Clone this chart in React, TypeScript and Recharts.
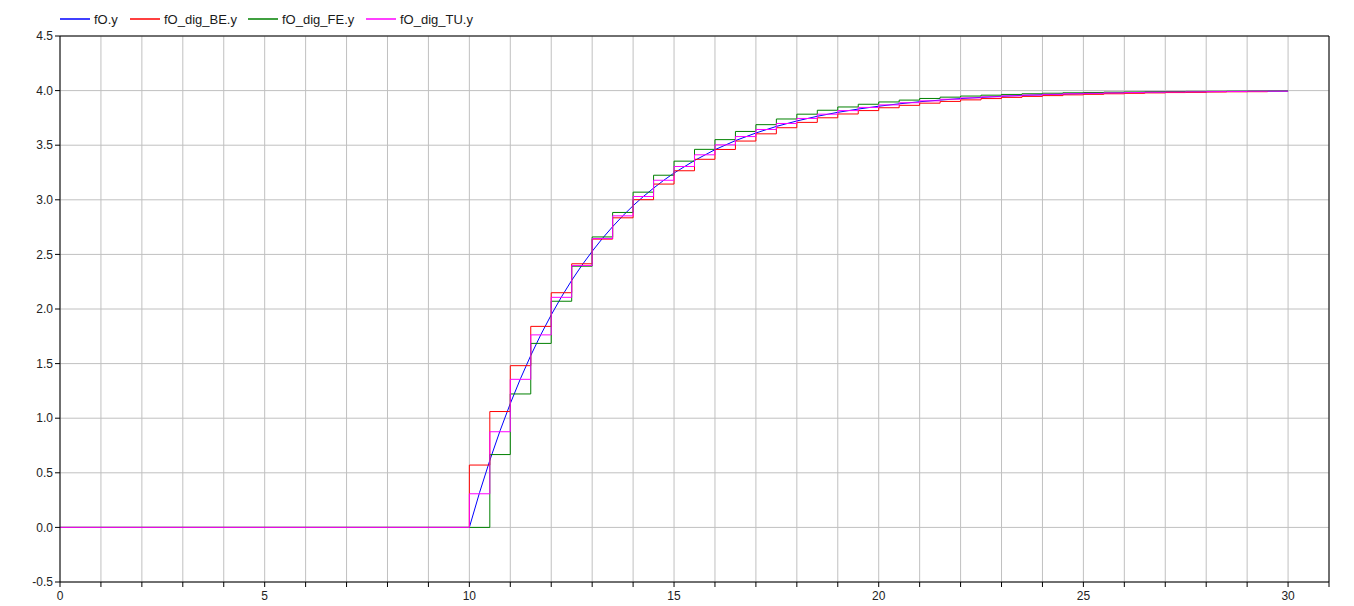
import React from 'react';
import { LineChart, Line, XAxis, YAxis, CartesianGrid, ReferenceLine } from 'recharts';

// sample instants of the discrete blocks (period 0.5 s, step at t = 10)
const sampleTimes = [
  10, 10.5, 11, 11.5, 12, 12.5, 13, 13.5, 14, 14.5,
  15, 15.5, 16, 16.5, 17, 17.5, 18, 18.5, 19, 19.5,
  20, 20.5, 21, 21.5, 22, 22.5, 23, 23.5, 24, 24.5,
  25, 25.5, 26, 26.5, 27, 27.5, 28, 28.5, 29, 29.5, 30,
];

// continuous response fO.y
const fOTimes = [
  0, 10, 10.25, 10.5, 10.75, 11, 11.25, 11.5, 11.75, 12, 12.25, 12.5, 12.75, 13, 13.25, 13.5,
  13.75, 14, 14.25, 14.5, 14.75, 15, 15.5, 16, 16.5, 17, 17.5, 18, 18.5, 19, 19.5, 20,
  20.5, 21, 21.5, 22, 22.5, 23, 23.5, 24, 24.5, 25, 25.5, 26, 26.5, 27, 27.5, 28,
  28.5, 29, 29.5, 30,
];
const fOValues = [
  0, 0, 0.32, 0.614, 0.885, 1.134, 1.363, 1.574, 1.768, 1.946, 2.111, 2.262, 2.401, 2.528, 2.646, 2.754,
  2.854, 2.946, 3.03, 3.107, 3.179, 3.245, 3.36, 3.459, 3.542, 3.612, 3.672, 3.722, 3.765, 3.801, 3.831, 3.857,
  3.879, 3.898, 3.913, 3.927, 3.938, 3.948, 3.956, 3.962, 3.968, 3.973, 3.977, 3.981, 3.984, 3.986, 3.988, 3.99,
  3.992, 3.993, 3.994, 3.995,
];

// backward Euler, held from 10 to 29.5
const beValues = [
  0.571, 1.061, 1.481, 1.841, 2.149, 2.414, 2.64, 2.835, 3.001, 3.144,
  3.266, 3.371, 3.461, 3.538, 3.604, 3.66, 3.709, 3.751, 3.786, 3.817,
  3.843, 3.865, 3.885, 3.901, 3.915, 3.927, 3.938, 3.947, 3.954, 3.961,
  3.966, 3.971, 3.975, 3.979, 3.982, 3.984, 3.987, 3.989, 3.99, 3.992,
];

// forward Euler
const feValues = [
  0, 0.667, 1.222, 1.685, 2.071, 2.392, 2.66, 2.884, 3.07, 3.225,
  3.354, 3.462, 3.551, 3.626, 3.688, 3.74, 3.784, 3.82, 3.85, 3.875,
  3.896, 3.913, 3.928, 3.94, 3.95, 3.958, 3.965, 3.971, 3.976, 3.98,
  3.983, 3.986, 3.988, 3.99, 3.992, 3.993, 3.994, 3.995, 3.996, 3.997, 3.997,
];

// Tustin
const tuValues = [
  0.308, 0.876, 1.356, 1.763, 2.107, 2.398, 2.645, 2.853, 3.03, 3.179,
  3.305, 3.412, 3.503, 3.579, 3.644, 3.699, 3.745, 3.784, 3.817, 3.846,
  3.869, 3.889, 3.906, 3.921, 3.933, 3.943, 3.952, 3.959, 3.966, 3.971,
  3.975, 3.979, 3.982, 3.985, 3.987, 3.989, 3.991, 3.992, 3.994, 3.995, 3.996,
];

const xTicks = Array.from({ length: 32 }, (_, i) => i);
const yTicks = [-0.5, 0, 0.5, 1, 1.5, 2, 2.5, 3, 3.5, 4, 4.5];

const series = [
  { name: 'fO.y', color: '#0000ff' },
  { name: 'fO_dig_BE.y', color: '#ff0000' },
  { name: 'fO_dig_FE.y', color: '#008000' },
  { name: 'fO_dig_TU.y', color: '#ff00ff' },
];
// left edge of each legend entry (page px)
const legendLeft = [60, 130, 248, 366];

const toPoints = (times: number[], values: number[]) =>
  [{ t: 0, v: 0 }, ...values.map((v, i) => ({ t: times[i], v }))];

const fOData = fOTimes.map((t, i) => ({ t, v: fOValues[i] }));
const beData = toPoints(sampleTimes, beValues);
const feData = toPoints(sampleTimes, feValues);
const tuData = toPoints(sampleTimes, tuValues);

const tickStyle = { fill: '#222', fontSize: 12 };

const App: React.FC = () => {
  return (
    <div style={{ position: 'relative', width: 1338, height: 598, fontFamily: '"Liberation Sans", Arial, sans-serif' }}>
      {/* legend above the plot */}
      <svg width={600} height={24} style={{ position: 'absolute', left: 0, top: 0, zIndex: 2 }}>
        {series.map((s, i) => (
          <g key={s.name} transform={`translate(${legendLeft[i] - 8}, 0)`}>
            <line x1={0} y1={11} x2={30} y2={11} stroke={s.color} strokeWidth={1.5} />
            <text x={34} y={16} fontSize={13} fill="#1a1a1a">{s.name}</text>
          </g>
        ))}
      </svg>
      <LineChart width={1338} height={598} margin={{ top: 28, right: 17, left: 0, bottom: 6 }}>
        <CartesianGrid stroke="#c0c0c0" strokeWidth={1} />
        <XAxis
          type="number"
          dataKey="t"
          domain={[0, 31]}
          ticks={xTicks}
          interval={0}
          allowDataOverflow
          tickFormatter={(v: number) => (v % 5 === 0 ? String(v) : '')}
          tick={tickStyle}
          tickSize={5}
          tickMargin={4}
          height={18}
          axisLine={{ stroke: '#000' }}
          tickLine={{ stroke: '#000' }}
        />
        <YAxis
          type="number"
          domain={[-0.5, 4.5]}
          ticks={yTicks}
          interval={0}
          allowDataOverflow
          tickFormatter={(v: number) => v.toFixed(1)}
          tick={tickStyle}
          tickSize={5}
          width={52}
          axisLine={{ stroke: '#000' }}
          tickLine={{ stroke: '#000' }}
        />
        <ReferenceLine y={4.5} stroke="#000" />
        <ReferenceLine x={31} stroke="#000" />
        <Line data={fOData} dataKey="v" type="linear" stroke={series[0].color} strokeWidth={1} dot={false} isAnimationActive={false} />
        <Line data={beData} dataKey="v" type="stepAfter" stroke={series[1].color} strokeWidth={1} dot={false} isAnimationActive={false} />
        <Line data={feData} dataKey="v" type="stepAfter" stroke={series[2].color} strokeWidth={1} dot={false} isAnimationActive={false} />
        <Line data={tuData} dataKey="v" type="stepAfter" stroke={series[3].color} strokeWidth={1} dot={false} isAnimationActive={false} />
      </LineChart>
    </div>
  );
};

export default App;
